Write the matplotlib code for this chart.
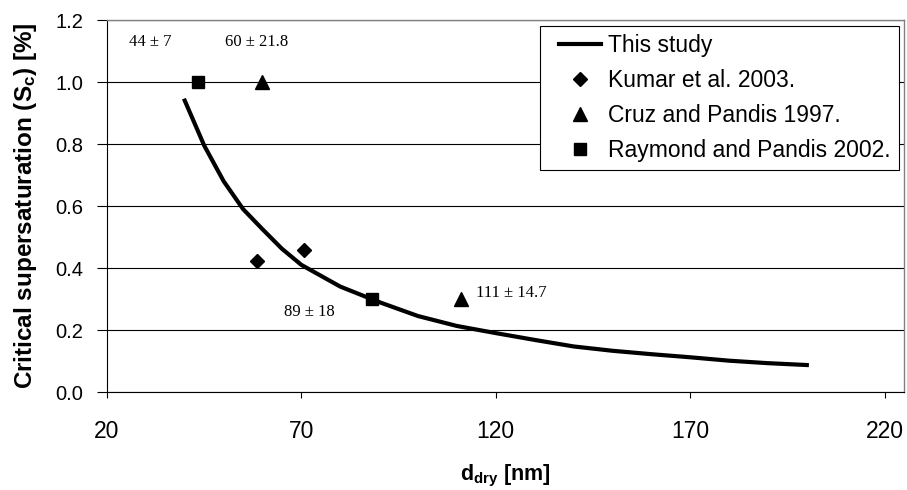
import matplotlib
matplotlib.use("Agg")
import matplotlib.pyplot as plt
from matplotlib.lines import Line2D
from matplotlib.legend_handler import HandlerLine2D

# Data
study_d = [40, 45, 50, 55, 60, 65, 70, 80, 90, 100, 110, 120, 130, 140, 150, 160, 170, 180, 190, 200]
study_sc = [0.94, 0.795, 0.68, 0.59, 0.525, 0.462, 0.41, 0.34, 0.29, 0.245, 0.213, 0.19, 0.168, 0.147, 0.133, 0.122, 0.112, 0.101, 0.093, 0.087]
kumar_d = [58.6, 70.6]
kumar_sc = [0.423, 0.458]
cruz_d = [59.8, 111]
cruz_sc = [1.0, 0.30]
raymond_d = [43.4, 88.1]
raymond_sc = [1.0, 0.30]
ann_text = ["44 \u00b1 7", "60 \u00b1 21.8", "89 \u00b1 18", "111 \u00b1 14.7"]
ann_x = [31, 58.6, 72, 115]
ann_y = [1.13, 1.13, 0.258, 0.32]
ann_ha = ["center", "center", "center", "left"]
x_ticks = [20, 70, 120, 170, 220]
y_ticks = [0.0, 0.2, 0.4, 0.6, 0.8, 1.0, 1.2]

plt.rcParams['font.family'] = ['Liberation Sans', 'DejaVu Sans']
plt.rcParams['mathtext.fontset'] = 'custom'
plt.rcParams['mathtext.rm'] = 'Liberation Sans'
plt.rcParams['mathtext.it'] = 'Liberation Sans:italic'
plt.rcParams['mathtext.bf'] = 'Liberation Sans:bold'

fig = plt.figure(figsize=(9.07, 4.90), dpi=100)
ax = fig.add_axes([107/907, 1-392/490, (904-107)/907, (392-20)/490])

ax.plot(study_d, study_sc, color='black', lw=3.0, label='This study', zorder=3)
ax.plot(kumar_d, kumar_sc, ls='none', marker='D', ms=7, color='black', label='Kumar et al. 2003.', zorder=4)
ax.plot(cruz_d, cruz_sc, ls='none', marker='^', ms=10, color='black', label='Cruz and Pandis 1997.', zorder=4)
ax.plot(raymond_d, raymond_sc, ls='none', marker='s', ms=8.5, color='black', label='Raymond and Pandis 2002.', zorder=4)

for t, x, y, ha in zip(ann_text, ann_x, ann_y, ann_ha):
    ax.text(x, y, t, ha=ha, va='center', fontsize=12, family=['Liberation Serif', 'DejaVu Serif'])

ax.set_xlim(20, 225)
ax.set_ylim(0, 1.2)
ax.set_xticks(x_ticks)
ax.set_yticks(y_ticks)
ax.set_yticklabels([f"{v:.1f}" for v in y_ticks])
ax.tick_params(axis='y', direction='out', length=7, width=0.8, pad=10, labelsize=14.5)
ax.tick_params(axis='x', direction='out', length=4.5, width=0.8, pad=16, labelsize=16.5)

ax.yaxis.grid(True, color='black', lw=0.8)
ax.set_axisbelow(True)
for s in ['left', 'bottom']:
    ax.spines[s].set_color('black')
    ax.spines[s].set_linewidth(0.8)
for s in ['top', 'right']:
    ax.spines[s].set_color('#808080')
    ax.spines[s].set_linewidth(1.0)

ax.set_xlabel(r'$\mathbf{d}_{\mathbf{dry}}$ [nm]', fontsize=15.5, fontweight='bold', labelpad=14)
ax.set_ylabel(r'Critical supersaturation (S$_{\mathbf{c}}$) [%]', fontsize=17.5, fontweight='bold', labelpad=12)

leg = ax.legend(loc='upper right', bbox_to_anchor=(0.9937, 0.984), fontsize=16.5,
                frameon=True, fancybox=False, edgecolor='black', framealpha=1,
                handlelength=2.31, handletextpad=0.3, borderpad=0.35, labelspacing=0.52,
                borderaxespad=0, handler_map={Line2D: HandlerLine2D(xpad=0.44)})
leg.get_frame().set_linewidth(0.8)

fig.savefig('out.png', dpi=100)
